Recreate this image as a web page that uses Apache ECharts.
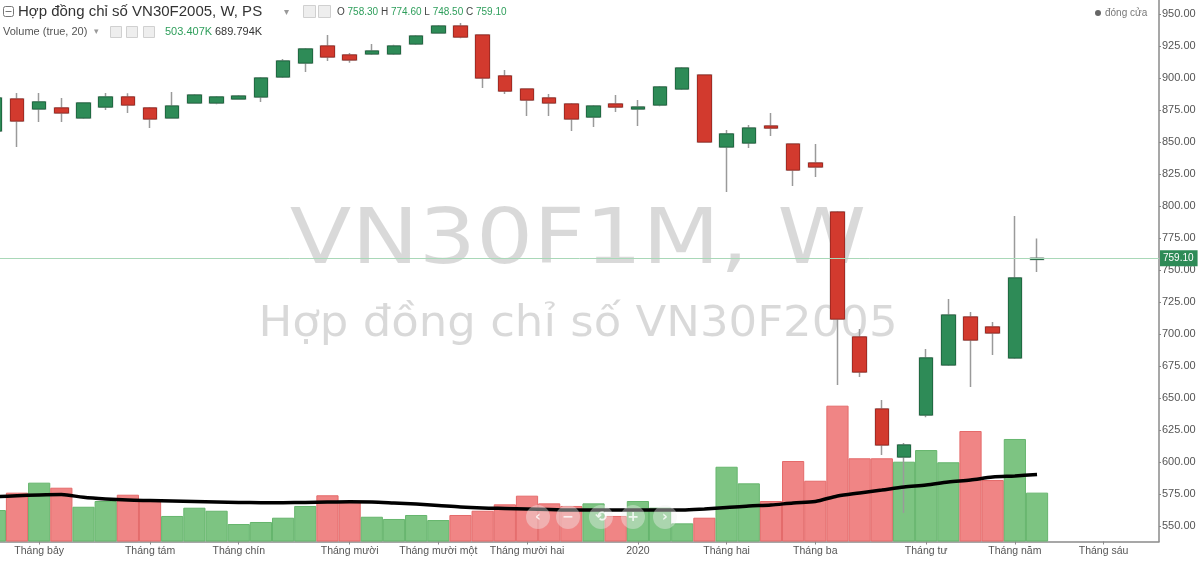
<!DOCTYPE html>
<html>
<head>
<meta charset="utf-8">
<script src="https://cdn.jsdelivr.net/npm/echarts@6/dist/echarts.min.js"></script>
<style>
html,body{margin:0;padding:0;background:#fff;}
#c{width:1200px;height:561px;}
</style>
</head>
<body>
<div id="c"></div>
<script>
// ---- data (weekly candles, VN30F1M; week index 0 = 2019-06-17) ----
const openP  = [858.6,883.6,875.8,876.6,868.8,877.3,885.2,876.6,868.8,880.5,880.5,883.6,885.2,900.8,911.7,925.0,918.0,918.8,918.8,926.6,935.2,940.6,933.6,901.6,891.4,884.4,879.7,869.5,879.7,875.8,878.9,891.4,902.3,846.1,849.2,862.5,848.4,833.6,795.3,697.7,641.4,603.9,636.7,675.8,713.3,705.5,681.3,758.3];
const closeP = [884.4,866.4,881.3,872.7,880.5,885.2,878.9,868.0,878.1,886.7,885.2,885.9,900.0,913.3,922.7,916.4,914.1,921.1,925.0,932.8,940.6,932.0,900.0,889.8,882.8,880.5,868.0,878.1,877.3,877.3,893.0,907.8,850.0,856.3,860.9,860.9,828.1,830.5,711.7,670.3,613.3,613.3,681.3,714.8,695.3,700.8,743.8,759.1];
const lowP   = [856.0,846.1,865.6,865.6,868.0,875.0,872.7,860.9,868.5,880.0,879.5,883.0,881.3,900.0,904.7,913.3,912.0,918.0,918.0,925.8,934.5,931.0,892.2,887.5,870.3,870.3,858.6,861.7,873.4,862.5,878.0,890.6,849.5,810.9,845.3,854.7,815.6,822.7,660.2,666.4,605.5,560.2,635.0,675.0,658.6,683.6,680.5,748.5];
const highP  = [886.0,888.3,888.3,884.4,881.0,888.3,888.0,877.3,889.1,887.5,886.0,886.7,900.8,914.8,923.4,933.6,919.5,926.6,926.0,933.5,941.4,943.0,934.0,906.3,892.0,887.5,880.5,879.0,886.7,882.8,893.8,908.6,903.0,859.4,863.3,872.7,849.0,848.4,796.0,703.9,648.4,614.8,688.3,727.3,717.2,709.4,792.2,774.6];
const volumeK = [324,503,606,554,358,417,482,427,263,348,317,180,201,245,366,476,407,255,232,273,221,273,317,383,472,393,366,393,263,417,348,187,245,770,599,417,829,626,1399,857,857,822,942,816,1138,633,1056,503.407];
const volMA20K = [460,472,480,484,455,438,427,422,417,412,407,402,400,400,402,407,410,407,397,386,371,355,345,340,335,330,324,324,324,324,324,324,335,350,366,376,397,412,469,500,530,561,582,613,634,664,675,689.794];
const monthIdx   = [2, 7, 11, 16, 20, 24, 29, 33, 37, 42, 46, 50];
const monthNames = ['Tháng bảy','Tháng tám','Tháng chín','Tháng mười','Tháng mười một','Tháng mười hai','2020','Tháng hai','Tháng ba','Tháng tư','Tháng năm','Tháng sáu'];
const priceTicks = {min:550, max:950, step:25};
const weekRange = {min:0.2333, max:52.5};

// ---- build ----
const n = openP.length;
const wickData = [], bodyData = [], volData = [], maData = [];
for (let i = 0; i < n; i++) {
  const up = closeP[i] >= openP[i];
  wickData.push([i, openP[i], closeP[i], lowP[i], highP[i]]);
  bodyData.push([i, openP[i], closeP[i], Math.min(openP[i],closeP[i]), Math.max(openP[i],closeP[i])]);
  volData.push({value:[i, volumeK[i]], itemStyle:{color: up ? '#7dc482' : '#f08585', borderColor: up ? '#66b56d' : '#e46a6a'}});
  maData.push([i, volMA20K[i]]);
}
const monthLabel = (v) => { const k = monthIdx.indexOf(Math.round(v)); return k >= 0 ? monthNames[k] : ''; };
const lastClose = closeP[n-1];
const FONT = 'Liberation Sans, Arial, sans-serif';
const UP = '#2e8b57', DOWN = '#d23a2e';
const gridR = 41;
const volPxK = 10.3;

const chart = echarts.init(document.getElementById('c'), null, {renderer:'canvas'});

const option = {
  animation: false,
  backgroundColor: '#fff',
  grid: [
    {left: 0, right: gridR, top: 14, height: 512},
    {left: 0, right: gridR, top: 0, height: 541.5}
  ],
  xAxis: [
    {type:'value', gridIndex:0, min:weekRange.min, max:weekRange.max,
     axisLine:{show:false}, axisTick:{show:false}, axisLabel:{show:false}, splitLine:{show:false}},
    {type:'value', gridIndex:1, min:weekRange.min, max:weekRange.max,
     axisLine:{show:true, onZero:false, lineStyle:{color:'#8a8a8a', width:1.5}},
     axisTick:{show:true, customValues: monthIdx, length:3, lineStyle:{color:'#8a8a8a'}},
     axisLabel:{show:true, customValues: monthIdx, formatter:(v)=>monthLabel(v), fontFamily:FONT, fontSize:10.5, color:'#555', margin:4},
     splitLine:{show:false}}
  ],
  yAxis: [
    {type:'value', gridIndex:0, position:'right', min:priceTicks.min, max:priceTicks.max, interval:priceTicks.step,
     axisLine:{show:false}, axisTick:{show:true, length:2, lineStyle:{color:'#888'}},
     axisLabel:{formatter:(v)=>v.toFixed(2), fontFamily:FONT, fontSize:11, color:'#555', margin:3},
     splitLine:{show:false}},
    {type:'value', gridIndex:1, position:'right', min:0, max:541.5*volPxK,
     axisLine:{show:true, onZero:false, lineStyle:{color:'#8a8a8a', width:1.5}}, axisTick:{show:false}, axisLabel:{show:false}, splitLine:{show:false}}
  ],
  series: [
    {type:'bar', name:'Volume', xAxisIndex:1, yAxisIndex:1, data: volData, barWidth:22.2,
     itemStyle:{borderWidth:1}},
    {type:'line', name:'Vol MA', xAxisIndex:1, yAxisIndex:1, data: maData, smooth:0.3, showSymbol:false,
     lineStyle:{color:'#000', width:3.5}},
    {type:'candlestick', name:'wick', xAxisIndex:0, yAxisIndex:0, data: wickData, barWidth:14,
     itemStyle:{color:'rgba(0,0,0,0)', color0:'rgba(0,0,0,0)', borderColor:'#9a9a9a', borderColor0:'#9a9a9a', borderWidth:1.5}},
    {type:'candlestick', name:'đóng cửa', xAxisIndex:0, yAxisIndex:0, data: bodyData, barWidth:14,
     itemStyle:{color:UP, color0:DOWN, borderColor:'#1f6b42', borderColor0:'#a52a22', borderWidth:1},
     markLine:{silent:true, symbol:['none','none'], data:[{yAxis:lastClose}],
       lineStyle:{color:'#a9d8b8', width:1, type:'solid'},
       label:{position:'end', distance:1, formatter: lastClose.toFixed(2), backgroundColor:UP, color:'#fff',
              fontFamily:FONT, fontSize:10, padding:[3,4,3,3]}}}
  ],
  graphic: [
    // watermark
    {type:'text', x:578, y:243, scaleY:0.86, style:{text:'VN30F1M, W', x:0, y:0, align:'center', verticalAlign:'middle',
      font:'90px "DejaVu Sans"', fill:'rgba(0,0,0,0.15)'}},
    {type:'text', x:578, y:325, scaleY:0.95, style:{text:'Hợp đồng chỉ số VN30F2005', x:0, y:0, align:'center', verticalAlign:'middle',
      font:'45px "DejaVu Sans"', fill:'rgba(0,0,0,0.15)'}},
    // header line 1
    {type:'rect', shape:{x:3.5, y:6.5, width:10, height:10, r:2}, style:{fill:'none', stroke:'#777', lineWidth:1}},
    {type:'line', shape:{x1:5.5, y1:11.5, x2:11.5, y2:11.5}, style:{stroke:'#777', lineWidth:1}},
    {type:'text', style:{text:'Hợp đồng chỉ số VN30F2005, W, PS', x:18, y:12, verticalAlign:'middle', font:'15px '+FONT, fill:'#333'}},
    {type:'text', style:{text:'▾', x:284, y:12, verticalAlign:'middle', font:'10px "DejaVu Sans"', fill:'#999'}},
    {type:'rect', shape:{x:303.5, y:5.5, width:12, height:12}, style:{fill:'#eee', stroke:'#d0d0d0'}},
    {type:'rect', shape:{x:318.5, y:5.5, width:12, height:12}, style:{fill:'#eee', stroke:'#d0d0d0'}},
    {type:'text', style:{x:337, y:12, verticalAlign:'middle', font:'10px '+FONT,
      text:'{l|O} {v|758.30} {l|H} {v|774.60} {l|L} {v|748.50} {l|C} {v|759.10}',
      rich:{l:{fill:'#444', font:'10px '+FONT}, v:{fill:'#2e9e5b', font:'10px '+FONT}}}},
    // header line 2
    {type:'text', style:{text:'Volume (true, 20)', x:3, y:32, verticalAlign:'middle', font:'11px '+FONT, fill:'#555'}},
    {type:'text', style:{text:'▾', x:94, y:32, verticalAlign:'middle', font:'9px "DejaVu Sans"', fill:'#999'}},
    {type:'rect', shape:{x:110.5, y:26.5, width:11, height:11}, style:{fill:'#eee', stroke:'#d0d0d0'}},
    {type:'rect', shape:{x:126.5, y:26.5, width:11, height:11}, style:{fill:'#eee', stroke:'#d0d0d0'}},
    {type:'rect', shape:{x:143.5, y:26.5, width:11, height:11}, style:{fill:'#eee', stroke:'#d0d0d0'}},
    {type:'text', style:{text:'503.407K', x:165, y:32, verticalAlign:'middle', font:'11px '+FONT, fill:'#2e9e5b'}},
    {type:'text', style:{text:'689.794K', x:215, y:32, verticalAlign:'middle', font:'11px '+FONT, fill:'#333'}},
    // legend top right
    {type:'circle', shape:{cx:1098, cy:13, r:3}, style:{fill:'#666'}},
    {type:'text', style:{text:'đóng cửa', x:1105, y:13, verticalAlign:'middle', font:'10px '+FONT, fill:'#777'}},
    // navigation buttons
    ...[['‹',538],['−',568],['⟲',601],['+',633],['›',665]].map(([s,cx]) => ({
      type:'group', z:100, children:[
        {type:'circle', z:100, shape:{cx:cx, cy:517, r:12}, style:{fill:'rgba(240,240,240,0.4)'}},
        {type:'text', z:101, style:{text:s, x:cx, y:517, align:'center', verticalAlign:'middle', font:'bold 14px "DejaVu Sans"', fill:'rgba(255,255,255,0.8)'}}
      ]}))
  ]
};
chart.setOption(option);
</script>
</body>
</html>
